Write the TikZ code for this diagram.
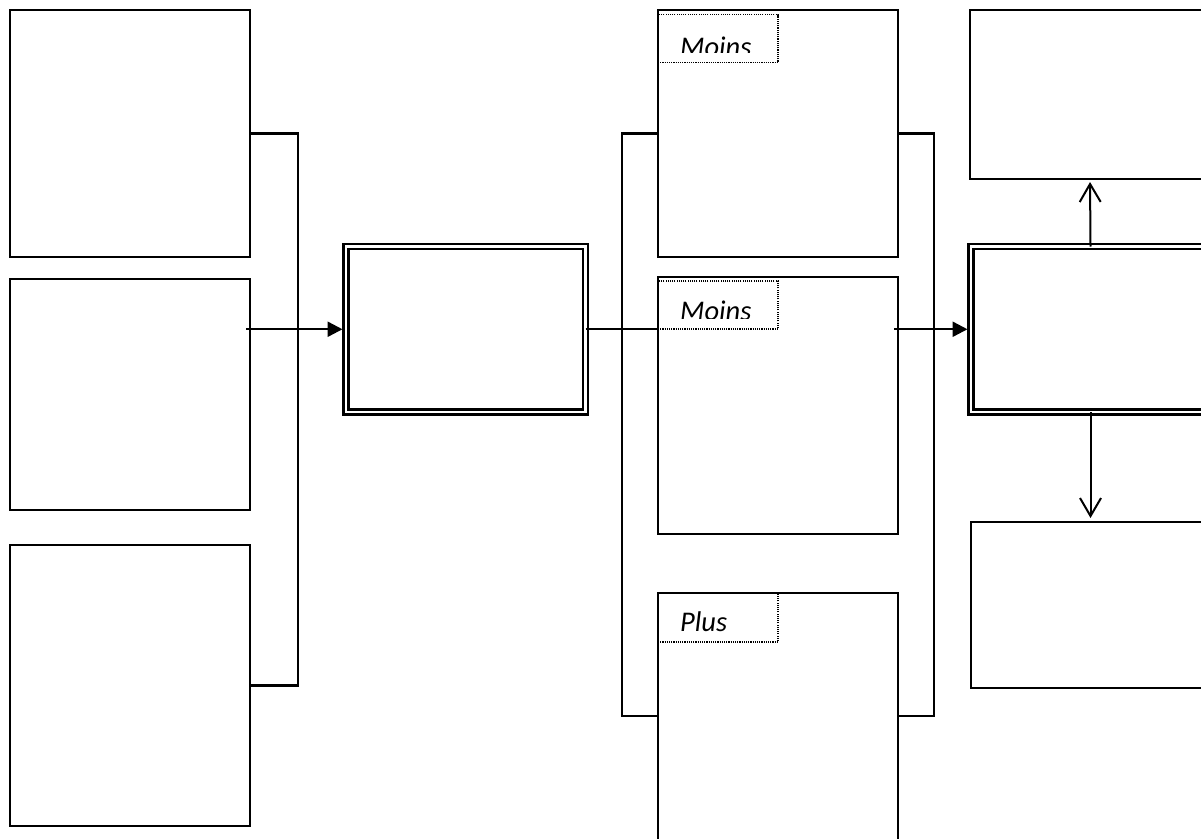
\documentclass[tikz,border=0pt]{standalone}
\usepackage{fontspec}
\setmainfont{Carlito}
\usetikzlibrary{arrows.meta}
\begin{document}
\begin{tikzpicture}[x=1pt,y=-1pt,
  box/.style={draw, line width=1.8pt, inner sep=0pt, outer sep=0pt},
  dbox/.style={draw, line width=2.6pt, double, double distance=2.4pt, inner sep=0pt, outer sep=0pt},
  tag/.style={draw, line width=1.1pt, dash pattern=on 1.1pt off 1.1pt, inner sep=0pt, outer sep=0pt, minimum width=120pt, minimum height=48pt},
  tagtext/.style={anchor=base west, inner sep=0pt, font=\fontsize{28.5}{30}\selectfont\itshape},
  link/.style={line width=2.3pt},
  fatarrow/.style={line width=2.4pt, -{Triangle[length=15pt,width=15pt]}, shorten >=3.5pt},
  barb/.style={line width=2pt, -{Straight Barb[length=18pt,width=21pt,line width=2pt]}},
]
\clip (0,0) rectangle (1201,838);
\fill[white] (0,0) rectangle (1201,838);
% left column
\node[box, minimum width=240pt, minimum height=247pt] (L1) at (130,133.5) {};
\node[box, minimum width=240pt, minimum height=231pt] (L2) at (130,394.5) {};
\node[box, minimum width=240pt, minimum height=281pt] (L3) at (130,685.5) {};
% centre box
\node[dbox, minimum width=239.5pt, minimum height=165.5pt] (C) at (465.75,329.25) {};
% middle column
\node[box, minimum width=240pt, minimum height=247pt] (MA) at (778,133.5) {};
\node[box, minimum width=240pt, minimum height=257pt] (MB) at (778,405.5) {};
\node[inner sep=0pt, outer sep=0pt, minimum width=240pt, minimum height=300pt] (MC) at (778,743) {};
\draw[line width=1.8pt] (MC.south west) -- (MC.north west) -- (MC.north east) -- (MC.south east);
\coordinate (mcw) at ([yshift=27pt]MC.west);
\coordinate (mce) at ([yshift=27pt]MC.east);
% right column
\node[box, minimum width=240pt, minimum height=169pt] (RT) at (1090,94.5) {};
\node[dbox, minimum width=239pt, minimum height=165.5pt] (RM) at (1090.5,329.25) {};
\node[box, minimum width=239pt, minimum height=166pt] (RB) at (1090.5,605) {};
% tags
\node[tag] (TA) at (718,38.5) {};
\node[tag] (TB) at (718,305) {};
\node[tag, minimum height=49pt] (TC) at (718,617.5) {};
\begin{scope}
\clip (TA.north west) rectangle ([yshift=-38pt]TA.north east);
\node[tagtext] (xa) at (680,56) {Moins};
\end{scope}
\begin{scope}
\clip (TB.north west) rectangle ([yshift=-37pt]TB.north east);
\node[tagtext] (xb) at (680,320) {Moins};
\end{scope}
\begin{scope}
\clip (TC.north west) rectangle ([yshift=-40pt]TC.north east);
\node[tagtext] (xc) at (680,631) {Plus};
\end{scope}
% connectors
\draw[link] (L1.east) -- ++(48,0) |- (L3.east);
\draw[fatarrow] ([xshift=-4pt]L2.east |- C.west) -- (C.west);
\draw[line width=1.9pt] (C.east) -- (C.east -| MB.west);
\draw[link] (MA.west) -- ++(-36,0) |- (mcw);
\draw[link] (MA.east) -- ++(36,0) |- (mce);
\draw[fatarrow] ([xshift=-4pt]MB.east |- RM.west) -- (RM.west);
\draw[barb, shorten >=3pt] (RM.north) -- (RT.south);
\draw[barb, shorten >=4pt] (RM.south) -- (RB.north);
\end{tikzpicture}
\end{document}
